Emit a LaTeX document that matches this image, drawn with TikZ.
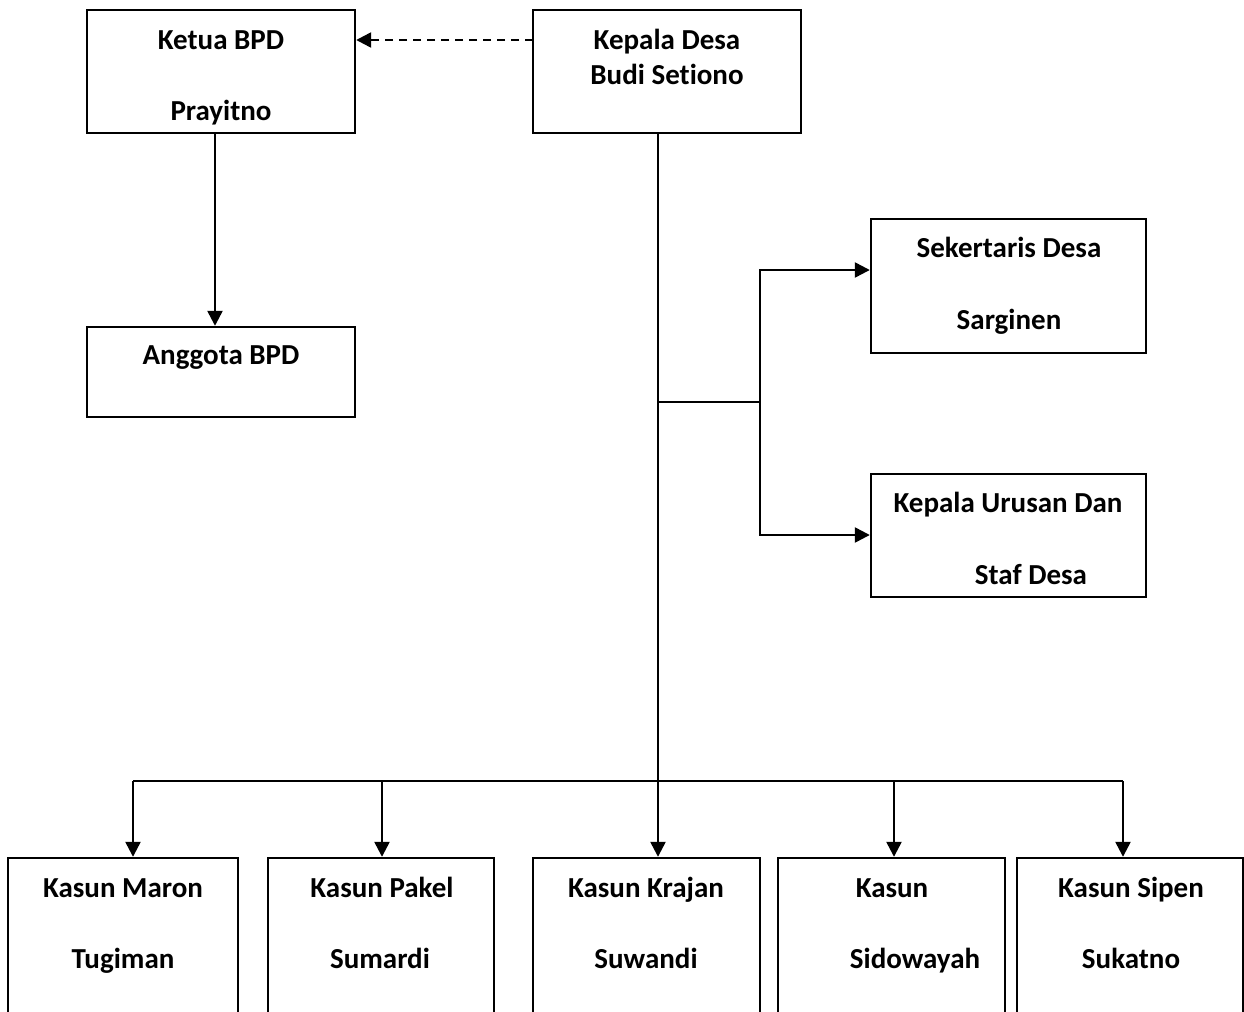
\documentclass[tikz,border=0pt]{standalone}
\usepackage{fontspec}
\setmainfont[Ligatures={NoCommon}]{Carlito}
\usetikzlibrary{arrows.meta}
\begin{document}
\begin{tikzpicture}[x=0.5pt,y=-0.5pt,
  box/.style={draw=black,line width=1.2pt,inner sep=0pt},
  lbl/.style={font=\fontsize{14.5}{17}\selectfont\bfseries,anchor=base,inner sep=0pt},
  conn/.style={line width=1.2pt,-{Triangle[length=7.5pt,width=7.5pt]}},
  plain/.style={line width=1.2pt}]
\useasboundingbox (0,0) rectangle (1244,1012);
\clip (0,0) rectangle (1244,1012);
% boxes
\node[box,minimum width=134pt,minimum height=61.5pt] (ketua) at (221,71.5) {};
\node[box,minimum width=134pt,minimum height=61.5pt] (kepala) at (667,71.5) {};
\node[box,minimum width=134pt,minimum height=45pt] (anggota) at (221,372) {};
\node[box,minimum width=137.5pt,minimum height=67pt] (sek) at (1008.5,286) {};
\node[box,minimum width=137.5pt,minimum height=61.5pt] (kaur) at (1008.5,535.5) {};
\node[box,minimum width=115pt,minimum height=100pt] (maron) at (123,958) {};
\node[box,minimum width=113pt,minimum height=100pt] (pakel) at (381,958) {};
\node[box,minimum width=113.5pt,minimum height=100pt] (krajan) at (646.5,958) {};
\node[box,minimum width=113.5pt,minimum height=100pt] (sido) at (891.5,958) {};
\node[box,minimum width=113pt,minimum height=100pt] (sipen) at (1130,958) {};
% texts
\node[lbl] (t1) at (221,49) {Ketua BPD};
\node[lbl] (t2) at (221,120) {Prayitno};
\node[lbl] (t3) at (667,49) {Kepala Desa};
\node[lbl] (t4) at (667,84) {Budi Setiono};
\node[lbl] (t5) at (221,364) {Anggota BPD};
\node[lbl] (t6) at (1009,257) {Sekertaris Desa};
\node[lbl] (t7) at (1009,329) {Sarginen};
\node[lbl] (t8) at (1008,512) {Kepala Urusan Dan};
\node[lbl] (t9) at (1031,584) {Staf Desa};
\node[lbl] (t10) at (123,897) {Kasun Maron};
\node[lbl] (t11) at (123,968) {Tugiman};
\node[lbl] (t12) at (382,897) {Kasun Pakel};
\node[lbl] (t13) at (380,968) {Sumardi};
\node[lbl] (t14) at (646,897) {Kasun Krajan};
\node[lbl] (t15) at (646,968) {Suwandi};
\node[lbl] (t16) at (892,897) {Kasun};
\node[lbl] (t17) at (915,968) {Sidowayah};
\node[lbl] (t18) at (1131,897) {Kasun Sipen};
\node[lbl] (t19) at (1131,968) {Sukatno};
% coordinates
\coordinate (d1) at (533,40);
\coordinate (kb) at (658,133);
\coordinate (br) at (658,402);
\coordinate (bx) at (760,402);
\coordinate (s1) at (760,270);
\coordinate (s2) at (760,535);
\coordinate (busL) at (133,781);
\coordinate (busR) at (1123,781);
\coordinate (pk) at (382,781);
\coordinate (sd) at (894,781);
\coordinate (kbd) at (215,133);
% connectors
\draw[conn,dash pattern=on 4pt off 3pt] (d1) -- (d1 -| ketua.east);
\draw[conn] (kbd) -- (kbd |- anggota.north);
\draw[conn] (kb) -- (kb |- krajan.north);
\draw[plain] (br) -- (bx);
\draw[conn] (bx) -- (s1) -- (s1 -| sek.west);
\draw[conn] (bx) -- (s2) -- (s2 -| kaur.west);
\draw[plain] (busL) -- (busR);
\draw[conn] (busL) -- (busL |- maron.north);
\draw[conn] (pk) -- (pk |- pakel.north);
\draw[conn] (sd) -- (sd |- sido.north);
\draw[conn] (busR) -- (busR |- sipen.north);
\end{tikzpicture}
\end{document}
